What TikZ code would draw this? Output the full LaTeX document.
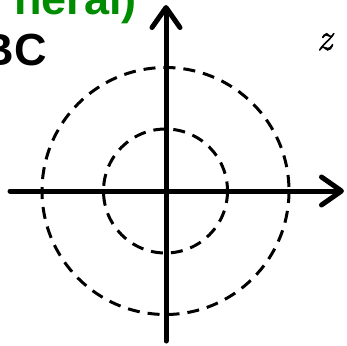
\documentclass[tikz,border=0pt]{standalone}
\usepackage{fontspec}
\setmainfont{Liberation Sans}
\newfontfamily\zfont{Latin Modern Roman}[FakeBold=1.5]
\usetikzlibrary{arrows.meta}
\definecolor{titlegreen}{RGB}{0,140,0}
\tikzset{
  axis/.style={line width=5pt, line cap=round,
    -{Straight Barb[length=20pt,width=28pt,round,line width=5pt]}},
  ring/.style={line width=3pt, dash pattern=on 12pt off 8pt},
  bigtext/.style={inner sep=0pt, font=\fontsize{45}{54}\selectfont\bfseries}
}
\begin{document}
\begin{tikzpicture}[x=1pt,y=-1pt]
\useasboundingbox (0,0) rectangle (347,345);
\clip (0,0) rectangle (347,345);
\coordinate (o) at (165.5,191);
\node[bigtext, text=titlegreen, anchor=base east] (title) at (137,15) {neral)};
\node[bigtext, anchor=base east] (bc) at (47,65) {BC};
\node[inner sep=0pt, anchor=base, font=\zfont\itshape\fontsize{38}{44}\selectfont] (zl) at (324.5,50) {z};
\draw[ring] (o) circle[radius=123.5];
\draw[ring] (o) circle[radius=62];
\coordinate (xl) at (10,191);
\coordinate (xr) at (344,191);
\coordinate (yb) at (166,341);
\coordinate (yt) at (166,5);
\draw[axis] (xl) -- (xr);
\draw[axis] (yb) -- (yt);
\end{tikzpicture}
\end{document}
